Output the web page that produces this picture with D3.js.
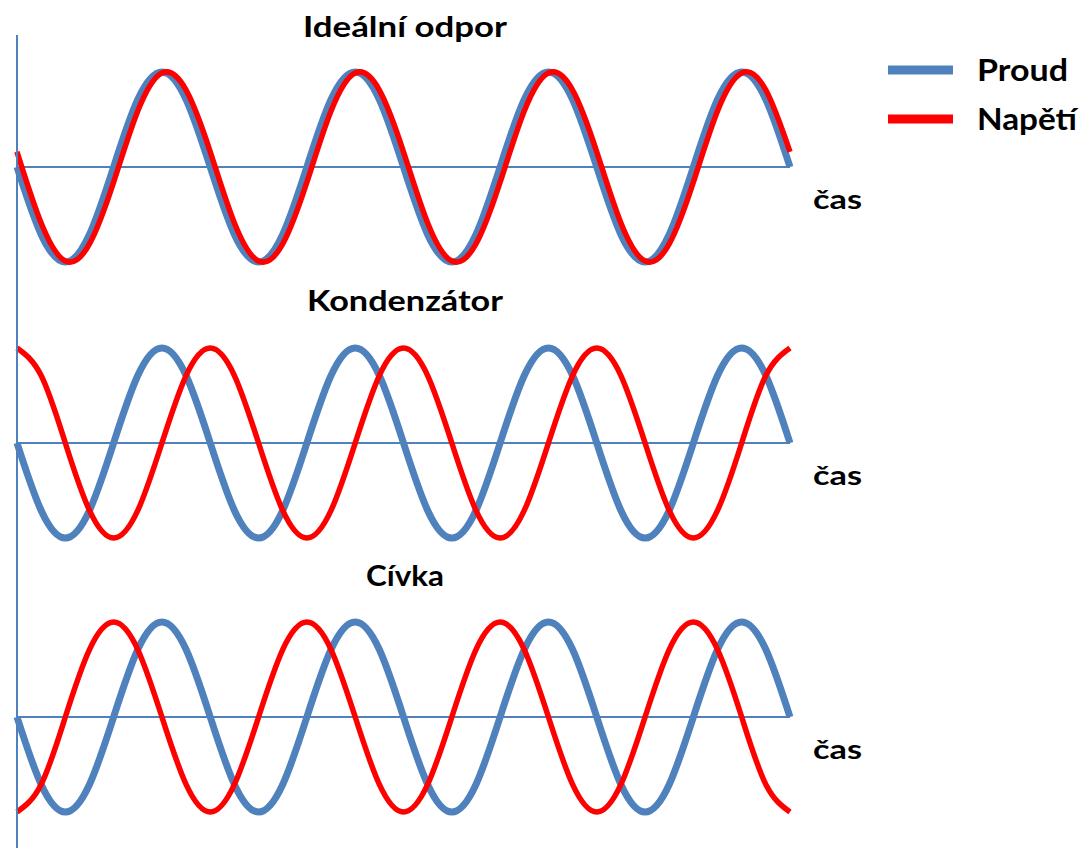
<!DOCTYPE html>
<html>
<head>
<meta charset="utf-8">
<script src="https://cdn.jsdelivr.net/npm/d3@7"></script>
<style>
  html, body { margin: 0; padding: 0; background: #fff; }
  svg { display: block; }
  text { font-family: Lato, "Open Sans", "Liberation Sans", sans-serif; font-weight: bold; fill: #000; }
</style>
</head>
<body>
<svg id="chart" width="1085" height="848"></svg>
<script>
// time in periods (eighth-period samples over 4 periods)
const time = [0,0.125,0.25,0.375,0.5,0.625,0.75,0.875,
              1,1.125,1.25,1.375,1.5,1.625,1.75,1.875,
              2,2.125,2.25,2.375,2.5,2.625,2.75,2.875,
              3,3.125,3.25,3.375,3.5,3.625,3.75,3.875,4];

// Proud (current) – same in all three panels
const proud = [0,-0.71,-1,-0.71,0,0.71,1,0.71,
               0,-0.71,-1,-0.71,0,0.71,1,0.71,
               0,-0.71,-1,-0.71,0,0.71,1,0.71,
               0,-0.71,-1,-0.71,0,0.71,1,0.71,0];

// Napětí (voltage) per panel
const napetiOdpor = [0.16,-0.59,-0.99,-0.81,-0.16,0.59,0.99,0.81,
                     0.16,-0.59,-0.99,-0.81,-0.16,0.59,0.99,0.81,
                     0.16,-0.59,-0.99,-0.81,-0.16,0.59,0.99,0.81,
                     0.16,-0.59,-0.99,-0.81,-0.16,0.59,0.99,0.81,0.16];
const napetiKondenzator = [1,0.71,0,-0.71,-1,-0.71,0,0.71,
                           1,0.71,0,-0.71,-1,-0.71,0,0.71,
                           1,0.71,0,-0.71,-1,-0.71,0,0.71,
                           1,0.71,0,-0.71,-1,-0.71,0,0.71,1];
const napetiCivka = [-1,-0.71,0,0.71,1,0.71,0,-0.71,
                     -1,-0.71,0,0.71,1,0.71,0,-0.71,
                     -1,-0.71,0,0.71,1,0.71,0,-0.71,
                     -1,-0.71,0,0.71,1,0.71,0,-0.71,-1];

const panelTitles = ["Ideální odpor", "Kondenzátor", "Cívka"];
const axisLabel = "čas";
const legendLabels = ["Proud", "Napětí"];

const panels = [
  {title: panelTitles[0], proud: proud, napeti: napetiOdpor},
  {title: panelTitles[1], proud: proud, napeti: napetiKondenzator},
  {title: panelTitles[2], proud: proud, napeti: napetiCivka}
];

const BLUE = "#4F81BD", RED = "#FF0000";
const svg = d3.select("#chart");

const x = d3.scaleLinear().domain([0, 4]).range([17, 790]);
const centers = [167, 443, 717];
const amp = 95;
const titleY = [37, 311, 586];
const titleW = [204, 196, 78];

panels.forEach((p, i) => {
  const cy = centers[i];
  const y = d3.scaleLinear().domain([-1, 1]).range([cy + amp, cy - amp]);
  const g = svg.append("g");

  // zero (time) axis
  g.append("line")
    .attr("x1", x(0)).attr("x2", x(4))
    .attr("y1", y(0)).attr("y2", y(0))
    .attr("stroke", BLUE).attr("stroke-width", 2);

  const line = d3.line().x((d, k) => x(time[k])).y(d => y(d)).curve(d3.curveNatural);

  g.append("path").datum(p.proud)
    .attr("d", line).attr("fill", "none")
    .attr("stroke", BLUE).attr("stroke-width", 7);
  g.append("path").datum(p.napeti)
    .attr("d", line).attr("fill", "none")
    .attr("stroke", RED).attr("stroke-width", 5.5);

  g.append("text")
    .attr("x", 405 - titleW[i] / 2).attr("y", titleY[i])
    .attr("font-size", 28)
    .attr("textLength", titleW[i]).attr("lengthAdjust", "spacingAndGlyphs")
    .text(p.title);

  g.append("text")
    .attr("x", 813).attr("y", y(0) + 42)
    .attr("font-size", 26)
    .attr("textLength", 49).attr("lengthAdjust", "spacingAndGlyphs")
    .text(axisLabel);
});

// vertical axis
svg.append("line")
  .attr("x1", 17).attr("x2", 17).attr("y1", 35).attr("y2", 848)
  .attr("stroke", BLUE).attr("stroke-width", 2);

// legend
const legendColors = [BLUE, RED];
const legendW = [91, 100];
legendLabels.forEach((lab, i) => {
  const ly = 70 + i * 49;
  svg.append("line")
    .attr("x1", 888).attr("x2", 953).attr("y1", ly).attr("y2", ly)
    .attr("stroke", legendColors[i]).attr("stroke-width", 9);
  svg.append("text")
    .attr("x", 977).attr("y", ly + 11)
    .attr("font-size", 30)
    .attr("textLength", legendW[i]).attr("lengthAdjust", "spacingAndGlyphs")
    .text(lab);
});
</script>
</body>
</html>
